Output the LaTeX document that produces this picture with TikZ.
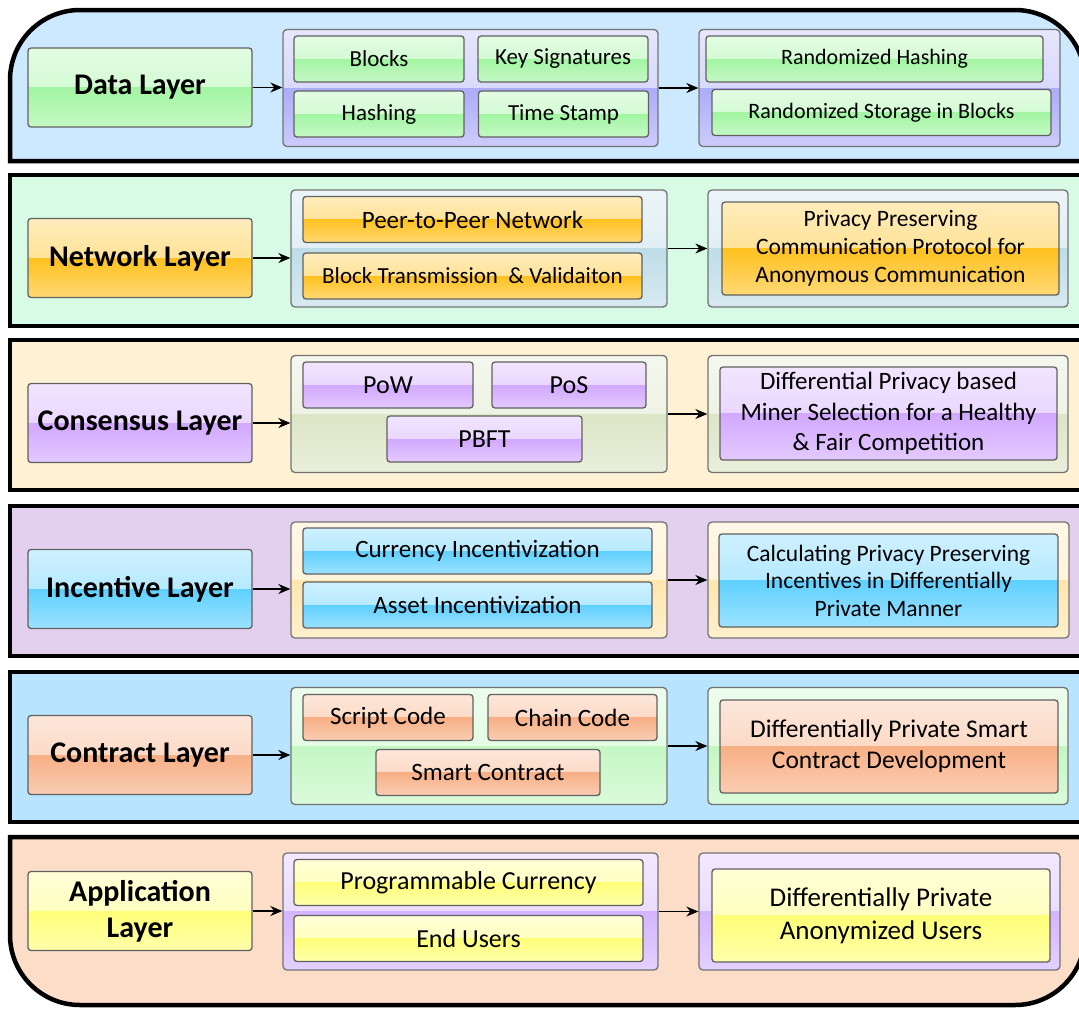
\documentclass[tikz,border=0pt]{standalone}
\usepackage{fontspec}
\setmainfont{Carlito}
\usepackage{tikz}
\usetikzlibrary{arrows.meta}

\definecolor{bandA}{HTML}{CCE9FF}
\definecolor{bandB}{HTML}{D8FBE6}
\definecolor{bandC}{HTML}{FFF2D4}
\definecolor{bandD}{HTML}{E3D0EF}
\definecolor{bandE}{HTML}{B8E4FF}
\definecolor{bandF}{HTML}{FBDDC8}
\definecolor{grn}{HTML}{A2F5A2}
\definecolor{org}{HTML}{FFC11F}
\definecolor{pur}{HTML}{D2A8FF}
\definecolor{cyn}{HTML}{5FD0FF}
\definecolor{sal}{HTML}{F7AF85}
\definecolor{ylw}{HTML}{FFFF78}
\definecolor{lav}{HTML}{ACACF8}
\definecolor{ltb}{HTML}{BEDDE8}
\definecolor{olv}{HTML}{DCE5C6}
\definecolor{crm}{HTML}{FFE6AE}
\definecolor{mnt}{HTML}{C4F7C4}
\definecolor{vio}{HTML}{D4B4FF}

\tikzset{
  band/.style={draw=black, line width=4.5pt},
  gloss/.style={draw=black!62, line width=1.3pt, rounded corners=3pt, text=black,
    path picture={
      \shade[sharp corners, top color=#1!30!white, bottom color=#1!62!white]
        (path picture bounding box.north west) rectangle (path picture bounding box.east);
      \shade[sharp corners, top color=#1, bottom color=#1!62!white]
        (path picture bounding box.west) rectangle (path picture bounding box.south east);
    }},
  layer/.style={gloss=#1, minimum width=224pt, minimum height=79pt, align=center,
    font=\fontsize{30}{36}\selectfont\bfseries},
  grp/.style={gloss=#1, minimum width=376pt, minimum height=117pt, rounded corners=4pt, draw=black!55},
  item/.style={gloss=#1, minimum height=46pt, inner sep=0pt},
  res/.style={gloss=#1, minimum width=337pt, minimum height=93pt, align=center, inner sep=0pt},
  fs/.style 2 args={font=\fontsize{#1}{#2}\selectfont},
  arr/.style={->, line width=1.4pt},
}

\begin{document}
\begin{tikzpicture}[x=1pt, y=-1pt, >={Stealth[length=12pt,width=10pt]}]
  \useasboundingbox (0,0) rectangle (1079,1009);
  \clip (0,0) rectangle (1079,1009);

  \draw[band, fill=bandA] (10,161) -- (10,80) arc[start angle=180, end angle=90, radius=70pt]
    -- (1015,10) arc[start angle=90, end angle=0, radius=70pt] -- (1085,161) -- cycle;
  \draw[band, fill=bandB] (10,175) rectangle (1085,326);
  \draw[band, fill=bandC] (10,340) rectangle (1085,490);
  \draw[band, fill=bandD] (10,506) rectangle (1085,656);
  \draw[band, fill=bandE] (10,672) rectangle (1085,822);
  \draw[band, fill=bandF] (10,837) -- (10,935) arc[start angle=180, end angle=270, radius=70pt]
    -- (1015,1005) arc[start angle=270, end angle=360, radius=70pt] -- (1085,837) -- cycle;

  \node[layer=grn] (dataL) at (140,87.5) {Data Layer};
  \node[grp=lav, minimum width=375pt] (dataG) at (470.5,88) {};
  \node[item=grn, fs={23}{28}, minimum width=170pt] (blocks) at (379,59) {Blocks};
  \node[item=grn, fs={23}{28}, minimum width=170pt] (keysig) at (563,59) {Key Signatures};
  \node[item=grn, fs={23}{28}, minimum width=170pt] (hashing) at (379,114) {Hashing};
  \node[item=grn, fs={23}{28}, minimum width=170pt] (tstamp) at (563.5,114) {Time Stamp};
  \node[grp=lav, minimum width=361pt] (dataR) at (879.5,88) {};
  \node[item=grn, fs={22}{27}, minimum width=337pt] (rhash) at (874.5,59) {Randomized Hashing};
  \node[item=grn, fs={22}{27}, minimum width=339pt] (rstore) at (881.5,112.5) {Randomized Storage in Blocks};
  \draw[arr] (dataL.east) -- (dataL.east -| dataG.west);
  \draw[arr] (dataG.east) -- (dataG.east -| dataR.west);

  \node[layer=org] (netL) at (140,258) {Network Layer};
  \node[grp=ltb] (netG) at (479,248.5) {};
  \node[item=org, fs={25}{30}, minimum width=339pt] (p2p) at (472.5,219.5) {Peer-to-Peer Network};
  \node[item=org, fs={23}{28}, minimum width=339pt] (blktx) at (472.5,276) {Block Transmission\ \ \& Validaiton};
  \node[grp=ltb, minimum width=360pt] (netR) at (888,248.5) {};
  \node[res=org, fs={23.5}{28}] (netX) at (890.5,248.5) {Privacy Preserving\\Communication Protocol for\\Anonymous Communication};
  \draw[arr] (netL.east) -- (netL.east -| netG.west);
  \draw[arr] (netG.east) -- (netG.east -| netR.west);

  \node[layer=pur] (conL) at (140,423) {Consensus Layer};
  \node[grp=olv] (conG) at (479,414) {};
  \node[item=pur, fs={26}{31}, minimum width=170pt] (pow) at (388,385) {PoW};
  \node[item=pur, fs={26}{31}, minimum width=154pt] (pos) at (569,385) {PoS};
  \node[item=pur, fs={26}{31}, minimum width=195pt] (pbft) at (484.5,439) {PBFT};
  \node[grp=olv, minimum width=360pt] (conR) at (888,414) {};
  \node[res=pur, fs={25}{30.5}] (conX) at (888.5,413.5) {Differential Privacy based\\Miner Selection for a Healthy\\\& Fair Competition};
  \draw[arr] (conL.east) -- (conL.east -| conG.west);
  \draw[arr] (conG.east) -- (conG.east -| conR.west);

  \node[layer=cyn] (incL) at (140,589) {Incentive Layer};
  \node[grp=crm, minimum height=116pt] (incG) at (479,580) {};
  \node[item=cyn, fs={25}{30}, minimum width=349pt] (curr) at (477.5,551) {Currency Incentivization};
  \node[item=cyn, fs={25}{30}, minimum width=349pt] (asset) at (477.5,605) {Asset Incentivization};
  \node[grp=crm, minimum width=361pt, minimum height=116pt] (incR) at (888.5,580) {};
  \node[res=cyn, fs={23.5}{27.5}, minimum width=339pt] (incX) at (888.5,580.5) {Calculating Privacy Preserving\\Incentives in Differentially\\Private Manner};
  \draw[arr] (incL.east) -- (incL.east -| incG.west);
  \draw[arr] (incG.east) -- (incG.east -| incR.west);

  \node[layer=sal] (ctrL) at (140,755) {Contract Layer};
  \node[grp=mnt] (ctrG) at (479,746) {};
  \node[item=sal, fs={25}{30}, minimum width=170pt] (script) at (388,717.5) {Script Code};
  \node[item=sal, fs={25}{30}, minimum width=169pt] (chain) at (572.5,717.5) {Chain Code};
  \node[item=sal, fs={25}{30}, minimum width=224pt] (smart) at (488,772.5) {Smart Contract};
  \node[grp=mnt, minimum width=360pt] (ctrR) at (888,746) {};
  \node[res=sal, fs={25.5}{31}, minimum width=338pt] (ctrX) at (889,746.5) {Differentially Private Smart\\Contract Development};
  \draw[arr] (ctrL.east) -- (ctrL.east -| ctrG.west);
  \draw[arr] (ctrG.east) -- (ctrG.east -| ctrR.west);

  \node[layer=ylw] (appL) at (140,911) {Application\\Layer};
  \node[grp=vio, minimum width=375pt] (appG) at (470.5,911.5) {};
  \node[item=ylw, fs={26}{31}, minimum width=349pt] (prog) at (468.5,882.5) {Programmable Currency};
  \node[item=ylw, fs={26}{31}, minimum width=349pt] (users) at (468.5,938.5) {End Users};
  \node[grp=vio, minimum width=361pt] (appR) at (879.5,911.5) {};
  \node[res=ylw, fs={27}{33}, minimum width=338pt] (appX) at (881,915.5) {Differentially Private\\Anonymized Users};
  \draw[arr] (appL.east) -- (appL.east -| appG.west);
  \draw[arr] (appG.east) -- (appG.east -| appR.west);
\end{tikzpicture}
\end{document}
